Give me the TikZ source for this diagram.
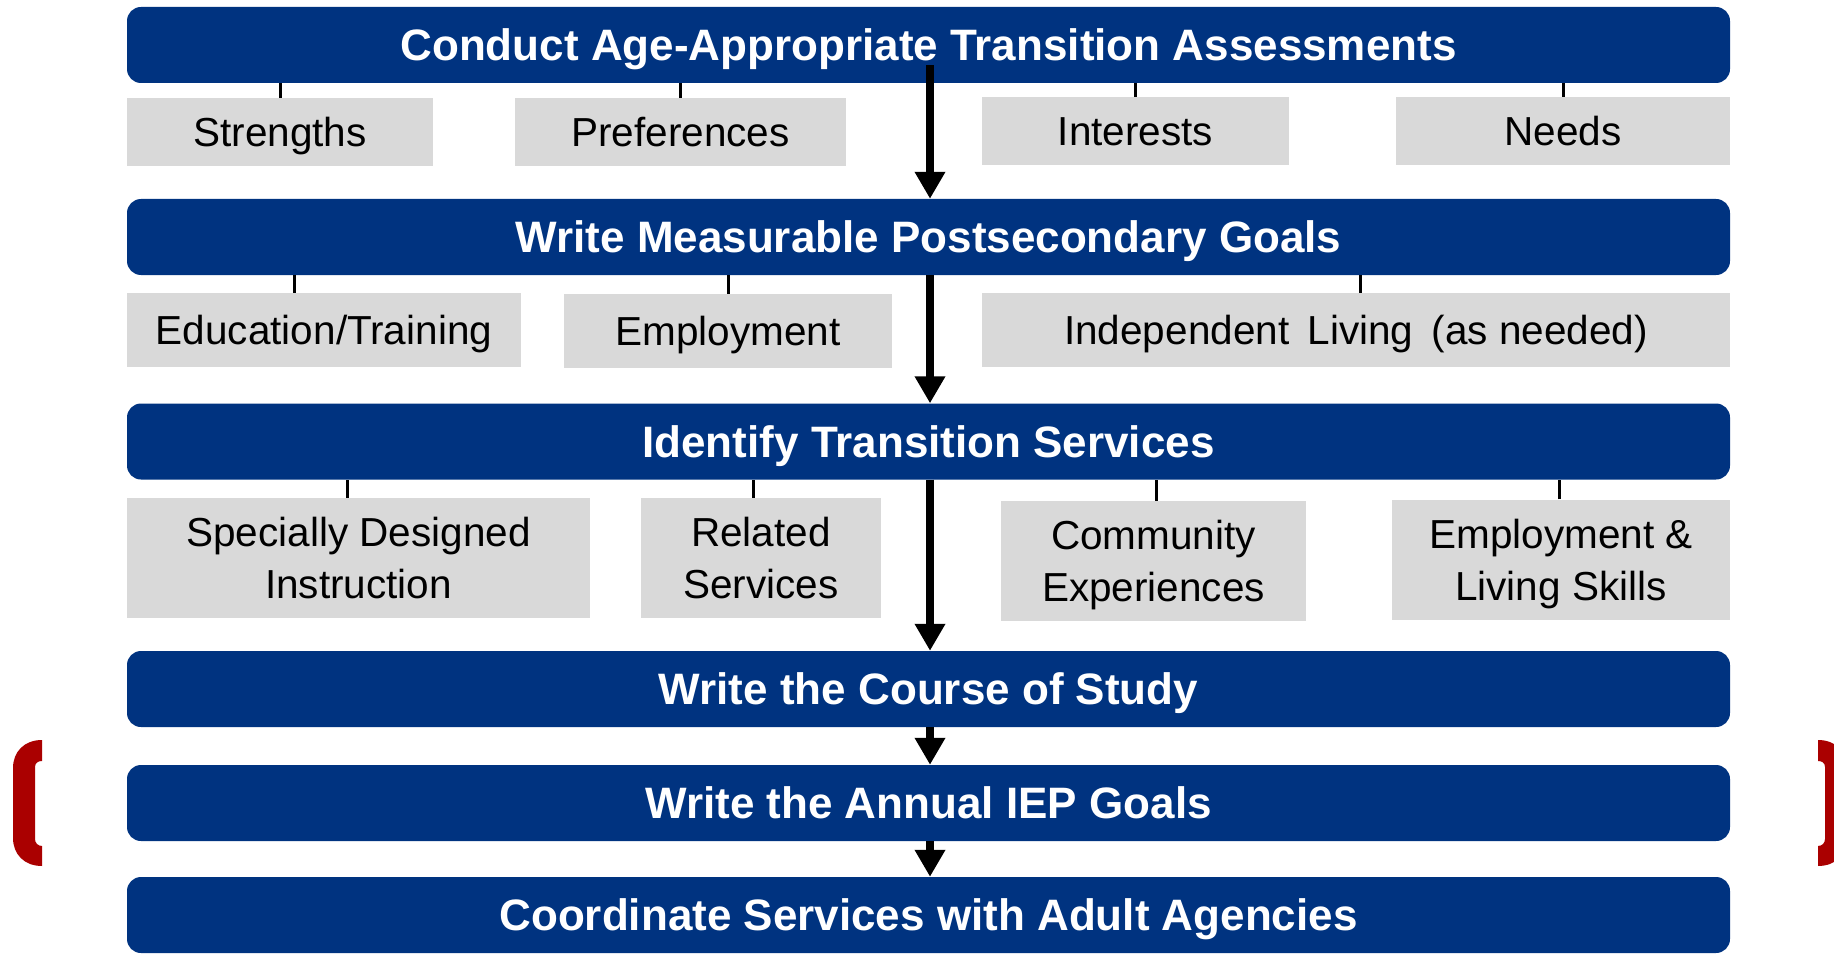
\documentclass[tikz,border=0pt]{standalone}
\usepackage{fontspec}
\setmainfont{Liberation Sans}
\usetikzlibrary{arrows.meta}
\definecolor{navy}{RGB}{0,51,128}
\definecolor{boxgray}{RGB}{217,217,217}
\definecolor{brred}{RGB}{170,0,0}
\tikzset{
  bar/.style={fill=navy, rounded corners=14pt, text=white,
    font=\fontsize{44}{50}\selectfont\bfseries, inner sep=0pt,
    minimum width=1603pt, minimum height=76pt, text height=31.5pt, text depth=0pt},
  gbox/.style={fill=boxgray, inner sep=0pt, font=\fontsize{40.5}{52}\selectfont,
    align=center, text height=29pt, text depth=0pt},
  gboxtwo/.style={gbox, text height=81pt, text depth=0pt},
  tickline/.style={line width=3pt},
  flow/.style={line width=8.5pt, -{Triangle[width=29pt,length=27pt]}},
  bracket/.style={fill=brred},
}
\begin{document}
\begin{tikzpicture}[x=1pt,y=-1pt]
\useasboundingbox (0,0) rectangle (1834,960);
\clip (0,0) rectangle (1834,960);

% main bars
\node[bar] (b1) at (928.5,45)  {Conduct Age-Appropriate Transition Assessments};
\node[bar] (b2) at (928.5,237) {Write Measurable Postsecondary Goals};
\node[bar] (b3) at (928.5,441.5) {Identify Transition Services};
\node[bar] (b4) at (928.5,689) {Write the Course of Study};
\node[bar] (b5) at (928.5,803) {Write the Annual IEP Goals};
\node[bar] (b6) at (928.5,915) {Coordinate Services with Adult Agencies};

% row 1
\node[gbox, minimum width=306pt, minimum height=68pt] (s1) at (280,132) {Strengths};
\node[gbox, minimum width=331pt, minimum height=68pt] (s2) at (680.5,132) {Preferences};
\node[gbox, minimum width=307pt, minimum height=68pt] (s3) at (1135.5,131) {Interests};
\node[gbox, minimum width=334pt, minimum height=68pt] (s4) at (1563,131) {Needs};

% row 2
\node[gbox, minimum width=394pt, minimum height=74pt] (e1) at (324,330) {Education/Training};
\node[gbox, minimum width=328pt, minimum height=74pt] (e2) at (728,331) {Employment};
\node[gbox, minimum width=748pt, minimum height=74pt] (e3) at (1356,330) {Independent\hspace{7pt} Living\hspace{7pt} (as needed)};

% row 3
\node[gboxtwo, minimum width=463pt, minimum height=120pt] (r1) at (358.5,558) {Specially Designed\\Instruction};
\node[gboxtwo, minimum width=240pt, minimum height=120pt] (r2) at (761,558) {Related\\Services};
\node[gboxtwo, minimum width=305pt, minimum height=120pt] (r3) at (1153.5,561) {Community\\Experiences};
\node[gboxtwo, minimum width=338pt, minimum height=120pt] (r4) at (1561,559.5) {Employment \&\\Living Skills};

% ticks
\foreach \n in {s1,s2,s3,s4} {\draw[tickline] (\n.north) -- (\n.north |- b1.south);}
\draw[tickline] ([xshift=-30pt]e1.north) -- ([xshift=-30pt]e1.north |- b2.south);
\draw[tickline] (e2.north) -- (e2.north |- b2.south);
\draw[tickline] ([xshift=4pt]e3.north) -- ([xshift=4pt]e3.north |- b2.south);
\draw[tickline] ([xshift=-11.5pt]r1.north) -- ([xshift=-11.5pt]r1.north |- b3.south);
\draw[tickline] ([xshift=-8pt]r2.north) -- ([xshift=-8pt]r2.north |- b3.south);
\draw[tickline] ([xshift=2.5pt]r3.north) -- ([xshift=2.5pt]r3.north |- b3.south);
\draw[tickline] ([xshift=-2pt]r4.north) -- ([xshift=-2pt]r4.north |- b3.south);

% flow arrows
\draw[flow] ([yshift=18pt,xshift=1.5pt]b1.south) -- ([xshift=1.5pt]b2.north);
\draw[flow] ([xshift=1.5pt]b2.south) -- ([xshift=1.5pt]b3.north);
\draw[flow] ([xshift=1.5pt]b3.south) -- ([xshift=1.5pt]b4.north);
\draw[flow] ([xshift=1.5pt]b4.south) -- ([xshift=1.5pt]b5.north);
\draw[flow] ([xshift=1.5pt]b5.south) -- ([xshift=1.5pt]b6.north);

% red brackets
\fill[bracket] (42,740) .. controls (24,740) and (13,752) .. (13,768) -- (13,838)
  .. controls (13,854) and (24,866) .. (42,866) -- (42,846)
  .. controls (38,846) and (35,843) .. (35,839) -- (35,767)
  .. controls (35,763) and (38,761) .. (42,761) -- cycle;
\fill[bracket] (1818,740) .. controls (1836,740) and (1847,752) .. (1847,768) -- (1847,838)
  .. controls (1847,854) and (1836,866) .. (1818,866) -- (1818,846)
  .. controls (1822,846) and (1825,843) .. (1825,839) -- (1825,767)
  .. controls (1825,763) and (1822,761) .. (1818,761) -- cycle;
\end{tikzpicture}
\end{document}
